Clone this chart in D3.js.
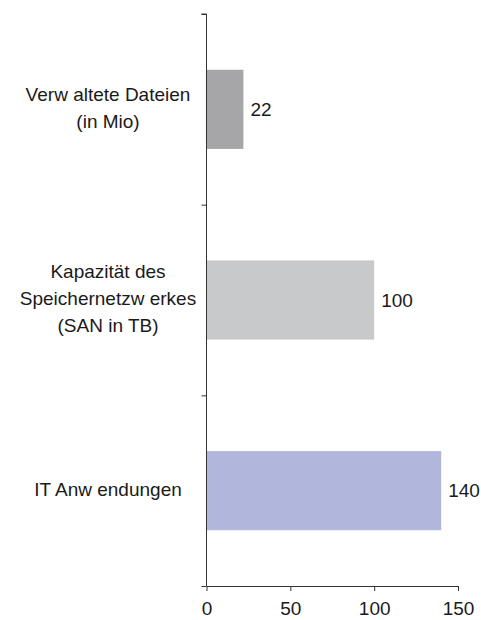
<!DOCTYPE html>
<html>
<head>
<meta charset="utf-8">
<script src="https://cdn.jsdelivr.net/npm/d3@7"></script>
<style>
  html, body { margin: 0; padding: 0; background: #fff; }
  svg text { font-family: Arial, "Liberation Sans", sans-serif; fill: #1a1a1a; }
</style>
</head>
<body>
<svg id="chart" width="481" height="620"></svg>
<script>
const categories = ["Verw altete Dateien\n(in Mio)", "Kapazität des\nSpeichernetzw erkes\n(SAN in TB)", "IT Anw endungen"];
const values = [22, 100, 140];
const colors = ["#a6a6a9", "#c8c9cb", "#b1b6dc"];
const xTicks = [0, 50, 100, 150];

const svg = d3.select("#chart");
const plotLeft = 206.5, plotRight = 458, plotTop = 14, plotBottom = 586;
const fs = 19;

const x = d3.scaleLinear().domain([0, 150]).range([plotLeft, plotRight]);
const y = d3.scaleBand().domain(categories).range([plotTop, plotBottom]).paddingInner(0.585).paddingOuter(0.2925);
const edge = d3.scaleLinear().domain([0, categories.length]).range([plotTop, plotBottom]);

// bars
svg.append("g").selectAll("rect").data(categories).join("rect")
  .attr("x", x(0))
  .attr("y", d => y(d))
  .attr("width", (d, i) => x(values[i]) - x(0))
  .attr("height", y.bandwidth())
  .attr("fill", (d, i) => colors[i]);

// value labels
svg.append("g").selectAll("text").data(categories).join("text")
  .attr("x", (d, i) => x(values[i]) + 7)
  .attr("y", d => y(d) + y.bandwidth() / 2)
  .attr("dy", "0.35em")
  .attr("font-size", fs)
  .text((d, i) => values[i]);

// y axis
const yAxis = svg.append("g").attr("transform", `translate(${plotLeft},0)`)
  .call(d3.axisLeft(edge).ticks(categories.length).tickSize(5).tickFormat(""));
yAxis.select(".domain").attr("stroke", "#333").attr("d", `M-5,${plotTop}H0V${plotBottom}`);
yAxis.selectAll(".tick line").attr("stroke", "#333");

// category labels
svg.append("g").selectAll("text").data(categories).join("text")
  .attr("text-anchor", "middle")
  .attr("font-size", fs)
  .each(function(d) {
    const lines = d.split("\n");
    const cy = y(d) + y.bandwidth() / 2;
    const lh = 27;
    d3.select(this).selectAll("tspan").data(lines).join("tspan")
      .attr("x", 108)
      .attr("y", (l, j) => cy - 1.5 + (j - (lines.length - 1) / 2) * lh)
      .attr("dy", "0.35em")
      .text(l => l);
  });

// x axis
const xAxis = svg.append("g").attr("transform", `translate(0,${plotBottom})`)
  .call(d3.axisBottom(x).tickValues(xTicks).tickSize(5).tickSizeOuter(0).tickPadding(11));
xAxis.select(".domain").attr("stroke", "#333");
xAxis.selectAll(".tick line").attr("stroke", "#333");
xAxis.selectAll(".tick text").attr("font-size", fs).attr("font-family", 'Arial, "Liberation Sans", sans-serif').attr("fill", "#1a1a1a");
</script>
</body>
</html>
